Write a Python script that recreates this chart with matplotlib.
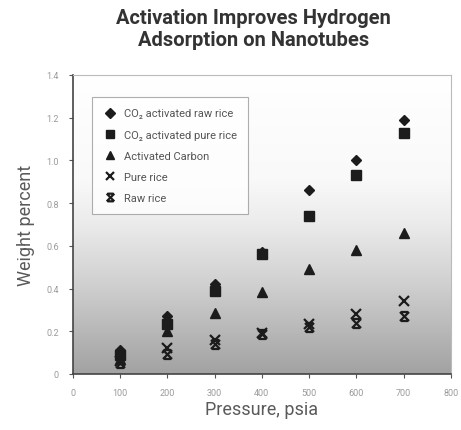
import numpy as np
import matplotlib
matplotlib.use("Agg")
import matplotlib.pyplot as plt
from matplotlib.path import Path
from matplotlib.colors import LinearSegmentedColormap

pressure = [100, 200, 300, 400, 500, 600, 700]
co2_raw = [0.11, 0.27, 0.42, 0.57, 0.86, 1.00, 1.19]
co2_pure = [0.09, 0.235, 0.39, 0.56, 0.74, 0.93, 1.13]
act_carbon = [0.07, 0.20, 0.285, 0.385, 0.49, 0.58, 0.66]
pure_rice = [0.06, 0.12, 0.16, 0.19, 0.235, 0.28, 0.34]
raw_rice = [0.05, 0.095, 0.14, 0.185, 0.22, 0.24, 0.27]
labels = ["CO\u2082 activated raw rice", "CO\u2082 activated pure rice",
          "Activated Carbon", "Pure rice", "Raw rice"]
xticks = [0, 100, 200, 300, 400, 500, 600, 700, 800]
yticks = [0, 0.2, 0.4, 0.6, 0.8, 1.0, 1.2, 1.4]
ytick_labels = ["0", "0.2", "0.4", "0.6", "0.8", "1.0", "1.2", "1.4"]

font = ["Roboto", "DejaVu Sans"]

fig = plt.figure(figsize=(4.61, 4.31), dpi=100)
ax = fig.add_axes([0.158, 0.130, 0.820, 0.694])

# background gradient (white at top to gray at bottom)
cmap = LinearSegmentedColormap.from_list(
    "bg", [(0.0, "#a2a2a2"), (0.3, "#d0d0d0"), (0.5, "#ebebeb"),
           (0.65, "#f9f9f9"), (1.0, "#ffffff")])
grad = np.linspace(0, 1, 256).reshape(-1, 1)
ax.imshow(grad, extent=[0, 800, 0, 1.4], origin="lower", aspect="auto",
          cmap=cmap, zorder=0)

# hourglass-like star marker
star = Path([(-1, -1), (1, 1), (-1, 1), (1, -1), (-0.8, 1), (0.8, 1),
             (-0.8, -1), (0.8, -1)],
            [Path.MOVETO, Path.LINETO, Path.MOVETO, Path.LINETO,
             Path.MOVETO, Path.LINETO, Path.MOVETO, Path.LINETO])

mc = "#1c1c1c"
ax.plot(pressure, co2_raw, linestyle="none", marker="D", ms=5.5, color=mc, label=labels[0], zorder=3)
ax.plot(pressure, co2_pure, linestyle="none", marker="s", ms=6.5, color=mc, label=labels[1], zorder=3)
ax.plot(pressure, act_carbon, linestyle="none", marker="^", ms=6.5, color=mc, label=labels[2], zorder=3)
ax.plot(pressure, pure_rice, linestyle="none", marker="x", ms=6.5, mew=1.6, color=mc, label=labels[3], zorder=3)
ax.plot(pressure, raw_rice, linestyle="none", marker=star, ms=6.5, mew=1.6, color=mc, label=labels[4], zorder=3)

ax.set_xlim(0, 800)
ax.set_ylim(0, 1.4)
ax.set_xticks(xticks)
ax.set_xticklabels([str(v) for v in xticks], fontfamily=font, fontsize=6.5, color="#9a9a9a")
ax.set_yticks(yticks)
ax.set_yticklabels(ytick_labels, fontfamily=font, fontsize=6.5, color="#9a9a9a")
ax.tick_params(axis="both", direction="out", length=3, width=0.8, color="#555555", pad=7)

for s in ["left", "bottom"]:
    ax.spines[s].set_color("#444444")
    ax.spines[s].set_linewidth(1.2)
for s in ["top", "right"]:
    ax.spines[s].set_color("#bbbbbb")
    ax.spines[s].set_linewidth(0.8)

ax.set_xlabel("Pressure, psia", fontfamily=font, fontsize=13, color="#5a5a5a", labelpad=2)
ax.set_ylabel("Weight percent", fontfamily=font, fontsize=13, color="#5a5a5a", labelpad=8)

leg = ax.legend(loc="upper left", bbox_to_anchor=(0.052, 0.925), frameon=True, fancybox=False,
                prop={"family": font, "size": 8}, labelcolor="#555555",
                handletextpad=0.6, handlelength=1.2, labelspacing=1.0,
                borderpad=1.0, borderaxespad=0, markerscale=0.85)
leg.get_frame().set_edgecolor("#9a9a9a")
leg.get_frame().set_linewidth(0.8)
leg.get_frame().set_facecolor("white")

fig.text(0.55, 0.978, "Activation Improves Hydrogen\nAdsorption on Nanotubes",
         ha="center", va="top", fontfamily=font, fontweight="bold", fontsize=14.5,
         color="#333333", linespacing=1.15)

fig.savefig("out.png", dpi=100)
